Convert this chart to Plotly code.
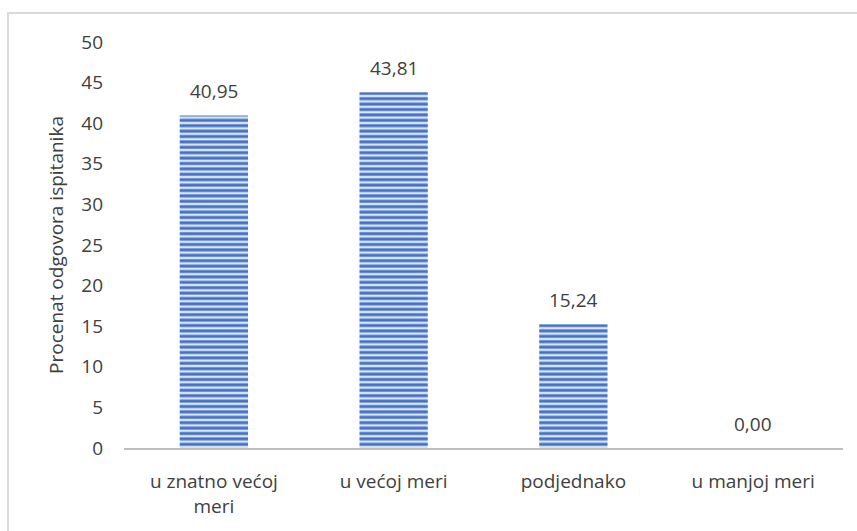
import plotly.graph_objects as go

categories = ["u znatno većoj<br>meri", "u većoj meri", "podjednako", "u manjoj meri"]
values = [40.95, 43.81, 15.24, 0.00]
y_ticks = [0, 5, 10, 15, 20, 25, 30, 35, 40, 45, 50]

W, H = 857, 531
ml, mr, mt, mb = 124, 14, 42, 83
font = dict(family="Open Sans, Lato, sans-serif", size=19, color="#404040")

fig = go.Figure(go.Bar(
    x=categories,
    y=values,
    marker=dict(
        color="#dbe4f5",
        line=dict(width=0),
        pattern=dict(shape="-", fgcolor="#4472c4", bgcolor="#dbe4f5",
                     size=5.4, solidity=0.55, fillmode="replace"),
    ),
    hoverinfo="skip",
))

for c, v in zip(categories, values):
    fig.add_annotation(x=c, y=v, text=f"{v:.2f}".replace(".", ","),
                       showarrow=False, yanchor="bottom", yshift=9,
                       font=font)

pw, ph = W - ml - mr, H - mt - mb
# outer chart frame (right and bottom edges run past the page)
fig.add_shape(type="rect", xref="paper", yref="paper",
              x0=(8 - ml) / pw, x1=(W + 20 - ml) / pw,
              y0=-(H + 20 - mt - ph) / ph, y1=(H - 13 - mb) / ph,
              line=dict(color="#d9d9d9", width=2), fillcolor="rgba(0,0,0,0)",
              layer="below")

fig.update_layout(
    width=W, height=H,
    margin=dict(l=ml, r=mr, t=mt, b=mb),
    paper_bgcolor="white", plot_bgcolor="white",
    bargap=0.62,
    showlegend=False,
    font=font,
    xaxis=dict(showgrid=False, showline=True, linecolor="#bfbfbf", linewidth=2,
               ticks="", tickfont=font, ticklabelstandoff=15),
    yaxis=dict(range=[0, 50], tickvals=y_ticks, showgrid=False, zeroline=False,
               showline=False, ticks="", tickfont=font, ticklabelstandoff=20,
               title=dict(text="Procenat odgovora ispitanika", font=font, standoff=12)),
)

fig.write_html("out.html")
